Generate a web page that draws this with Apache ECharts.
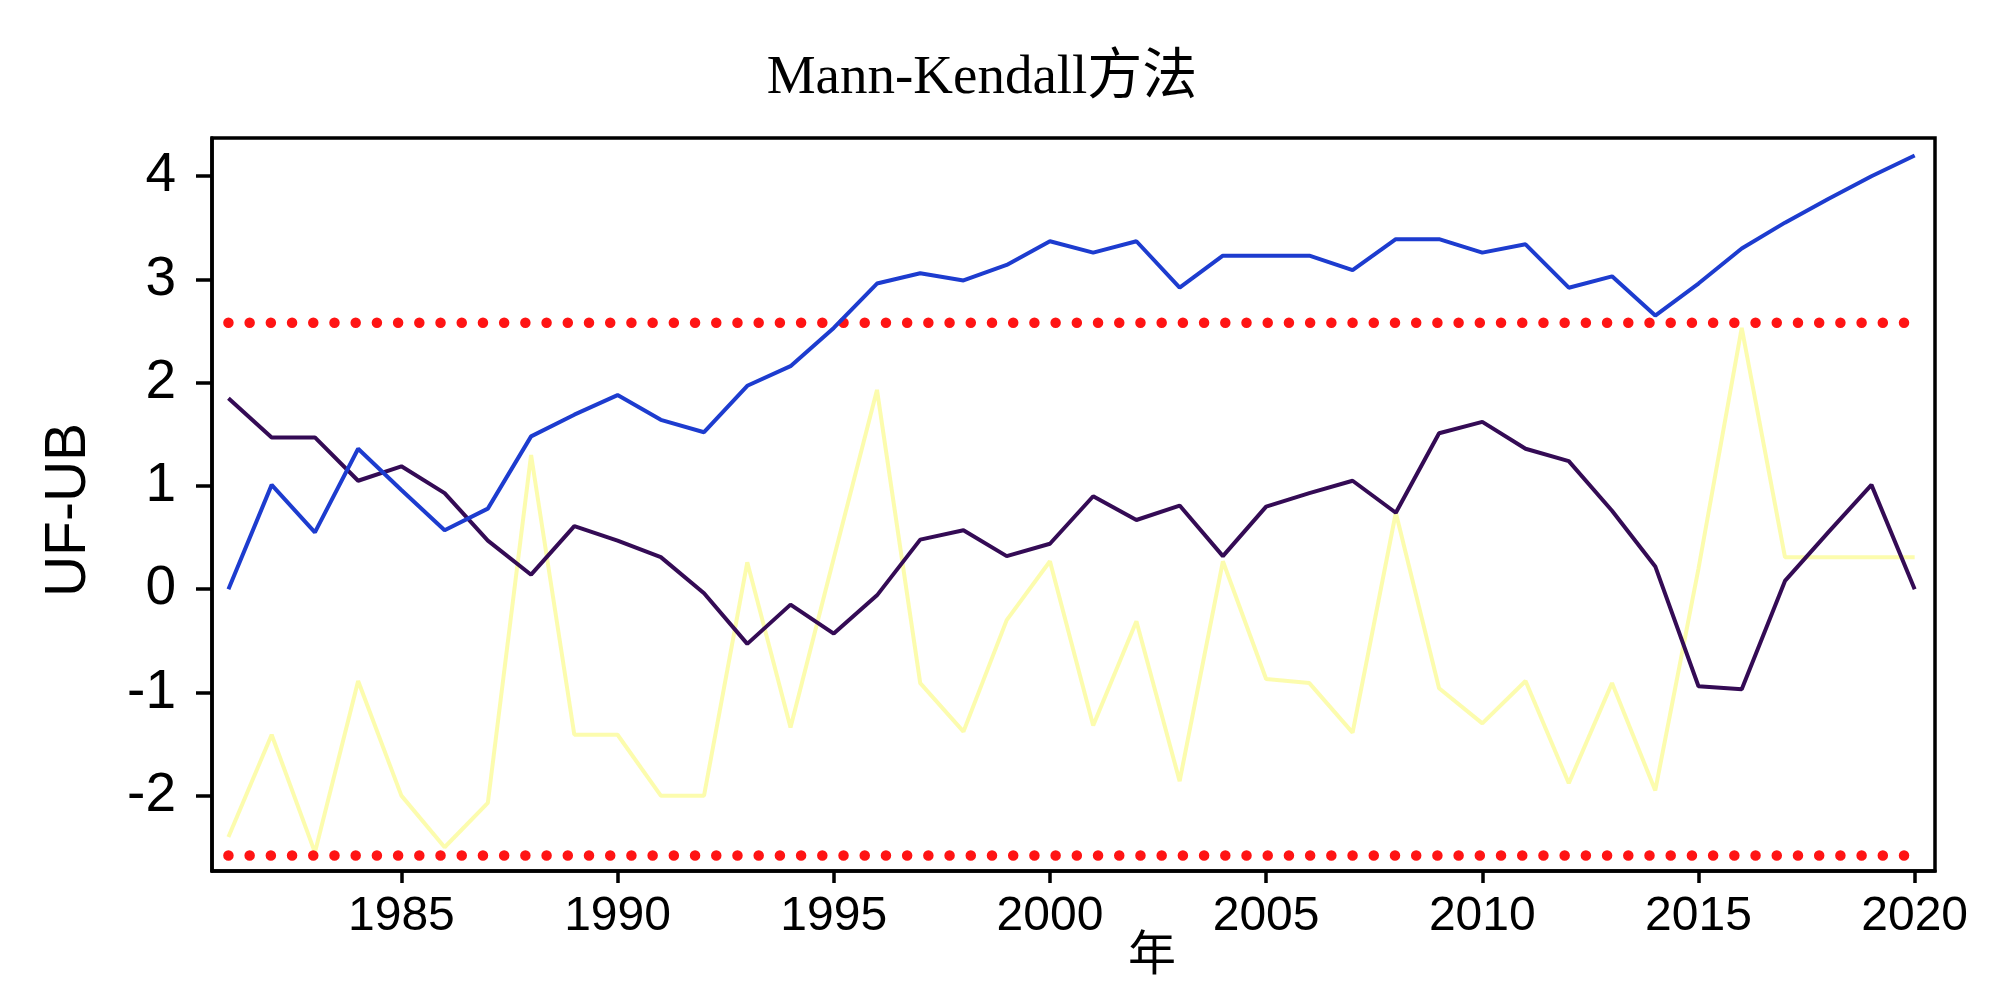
<!DOCTYPE html>
<html>
<head>
<meta charset="utf-8">
<script src="https://cdn.jsdelivr.net/npm/echarts@6/dist/echarts.min.js"></script>
<style>
html,body{margin:0;padding:0;background:#fff;}
#c{width:2000px;height:989px;}
</style>
</head>
<body>
<div id="c"></div>
<script>
const years = [1981,1982,1983,1984,1985,1986,1987,1988,1989,1990,
               1991,1992,1993,1994,1995,1996,1997,1998,1999,2000,
               2001,2002,2003,2004,2005,2006,2007,2008,2009,2010,
               2011,2012,2013,2014,2015,2016,2017,2018,2019,2020];
const ufValues = [0,1.01,0.55,1.36,0.96,0.57,0.78,1.48,1.69,1.88,
                  1.64,1.52,1.97,2.16,2.53,2.96,3.06,2.99,3.14,3.37,
                  3.26,3.37,2.92,3.23,3.23,3.23,3.09,3.39,3.39,3.26,
                  3.34,2.92,3.03,2.65,2.96,3.30,3.55,3.78,4.00,4.20];
const ubValues = [1.85,1.47,1.47,1.05,1.19,0.93,0.47,0.14,0.61,0.47,
                  0.31,-0.04,-0.53,-0.15,-0.43,-0.06,0.48,0.57,0.32,0.44,
                  0.90,0.67,0.81,0.32,0.80,0.93,1.05,0.74,1.51,1.62,
                  1.36,1.24,0.76,0.22,-0.94,-0.97,0.08,0.55,1.01,0.0];
const seqValues = [-2.4,-1.41,-2.55,-0.89,-2.0,-2.5,-2.07,1.3,-1.41,-1.41,
                   -2.0,-2.0,0.26,-1.34,0.3,1.93,-0.91,-1.38,-0.3,0.27,
                   -1.32,-0.31,-1.86,0.27,-0.87,-0.91,-1.39,0.74,-0.96,-1.3,
                   -0.89,-1.88,-0.91,-1.95,0.2,2.53,0.31,0.31,0.31,0.31];
const criticalValue = 2.58;
const xTickValues = [1985,1990,1995,2000,2005,2010,2015,2020];
const yTickValues = [-2,-1,0,1,2,3,4];
const titleText = 'Mann-Kendall方法';
const xName = '年';
const yName = 'UF-UB';

const pair = (xs, ys) => xs.map((x, i) => [x, ys[i]]);
const critUpper = [[years[0], criticalValue], [years[years.length-1], criticalValue]];
const critLower = [[years[0], -criticalValue], [years[years.length-1], -criticalValue]];

const chart = echarts.init(document.getElementById('c'), null, {renderer: 'canvas'});
const dotStyle = {color: '#ff1414', width: 10.5, type: [0.01, 21.2], cap: 'round'};
chart.setOption({
  backgroundColor: '#ffffff',
  animation: false,
  grid: {left: 212, right: 65, top: 138, bottom: 118, show: true,
         borderColor: '#000', borderWidth: 3.5, backgroundColor: 'transparent'},
  xAxis: {
    type: 'value', min: 1980.62, max: 2020.47, position: 'bottom',
    axisLine: {show: true, onZero: false, lineStyle: {color: '#000', width: 3.5}},
    splitLine: {show: false},
    axisTick: {show: true, customValues: xTickValues, length: 12, inside: false,
               lineStyle: {color: '#000', width: 3.5}},
    axisLabel: {customValues: xTickValues, color: '#000', fontSize: 48,
                fontFamily: '"Liberation Sans Narrow", "Arial Narrow", "Liberation Sans", sans-serif',
                margin: 22, formatter: v => String(v)}
  },
  yAxis: {
    type: 'value', min: -2.73, max: 4.37, position: 'left',
    axisLine: {show: true, onZero: false, lineStyle: {color: '#000', width: 3.5}},
    splitLine: {show: false},
    axisTick: {show: true, customValues: yTickValues, length: 16, inside: false,
               lineStyle: {color: '#000', width: 3.5}},
    axisLabel: {customValues: yTickValues, color: '#000', fontSize: 55,
                fontFamily: '"Liberation Sans", Arial, sans-serif', margin: 36,
                formatter: v => String(v)}
  },
  graphic: [
    {type: 'text', x: 982, y: 79, style: {text: titleText, fill: '#000',
      font: '55px "Liberation Serif", "Noto Sans CJK SC", serif', textAlign: 'center', textVerticalAlign: 'middle'}},
    {type: 'text', x: 1152, y: 952, style: {text: xName, fill: '#000',
      font: '48px "Noto Sans CJK SC", serif', textAlign: 'center', textVerticalAlign: 'middle'}},
    {type: 'text', x: 69, y: 510, rotation: Math.PI / 2, style: {text: yName, fill: '#000',
      font: '57px "Liberation Sans", Arial, sans-serif', textAlign: 'center', textVerticalAlign: 'middle'}}
  ],
  series: [
    {name: 'series', type: 'line', data: pair(years, seqValues), symbol: 'none',
     lineStyle: {color: '#fbfb8c', width: 4, opacity: 0.7}, z: 1},
    {name: 'upper', type: 'line', data: critUpper, symbol: 'none', lineStyle: dotStyle, z: 2},
    {name: 'lower', type: 'line', data: critLower, symbol: 'none', lineStyle: dotStyle, z: 2},
    {name: 'UB', type: 'line', data: pair(years, ubValues), symbol: 'none',
     lineStyle: {color: '#340b55', width: 4}, z: 3},
    {name: 'UF', type: 'line', data: pair(years, ufValues), symbol: 'none',
     lineStyle: {color: '#1d3ccf', width: 4}, z: 4}
  ]
});
</script>
</body>
</html>
